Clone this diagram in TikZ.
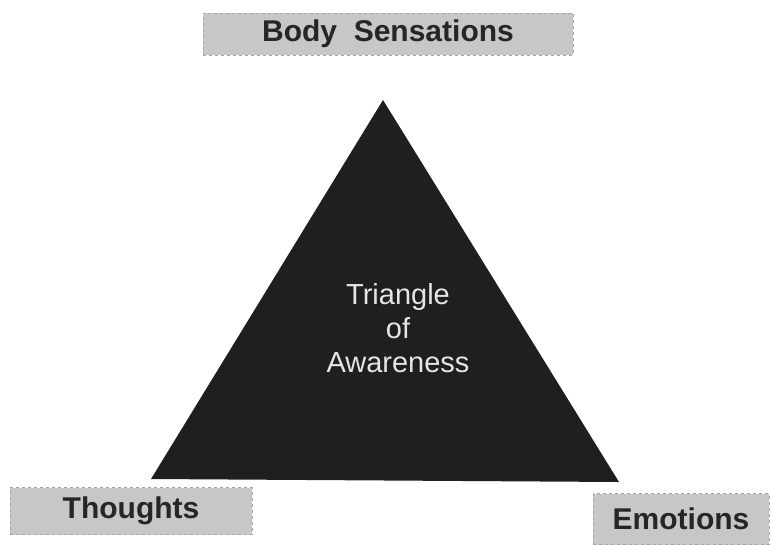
\documentclass[tikz,border=0pt]{standalone}
\usepackage{fontspec}
\setmainfont{Liberation Sans}
\begin{document}
\begin{tikzpicture}[x=1pt,y=-1pt,
  labelbox/.style={draw=gray!70, dashed, line width=0.8pt, fill=black!22, inner sep=0pt,
    font=\fontsize{30}{34}\selectfont\bfseries, text=black!85},
  tri/.style={fill=black!88},
  inner/.style={font=\fontsize{29}{34}\selectfont, text=black!10, align=center}]
\useasboundingbox (0,0) rectangle (771,544);
\coordinate (apex) at (383,100);
\coordinate (bl) at (151,479);
\coordinate (br) at (619,482);
\fill[tri] (apex) -- (br) -- (bl) -- cycle;
\node[inner] (awareness) at (398,328) {Triangle\\of\\Awareness};
\node[labelbox, minimum width=370pt, minimum height=42pt] (body) at (388,34) {Body\ \ Sensations};
\node[labelbox, minimum width=242pt, minimum height=47pt] (thoughts) at (131,511) {Thoughts};
\node[labelbox, minimum width=176pt, minimum height=51pt] (emotions) at (681,519) {Emotions};
\end{tikzpicture}
\end{document}
